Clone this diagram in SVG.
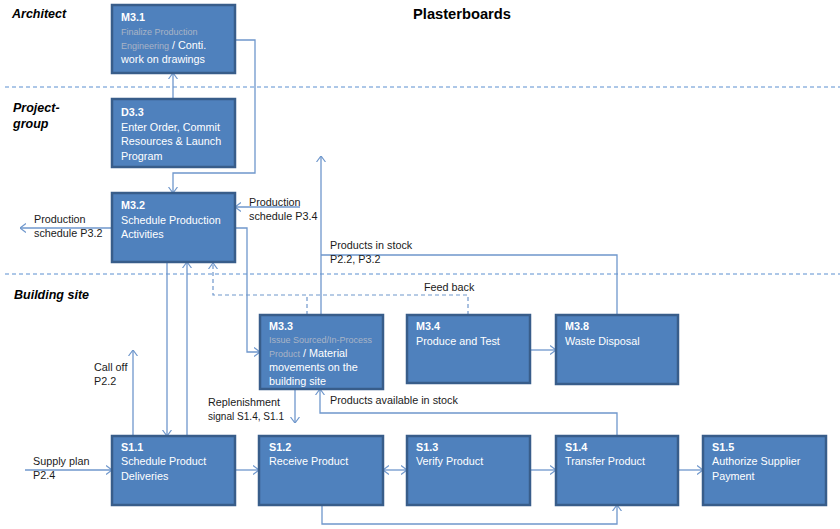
<svg xmlns="http://www.w3.org/2000/svg" width="840" height="529" viewBox="0 0 840 529">
<style>
.box{fill:#4F81BD;stroke:#385D8A;stroke-width:2.5}
.t{font-family:"Liberation Sans",Arial,sans-serif;font-size:10.8px;fill:#FFFFFF}
.b{font-weight:bold}
.g{fill:#A9B4C6;font-size:9px}
.lbl{font-family:"Liberation Sans",Arial,sans-serif;font-size:10.8px;fill:#1a1a1a}
.lane{font-family:"Liberation Sans",Arial,sans-serif;font-size:12.5px;font-weight:bold;font-style:italic;fill:#000}
.sep{stroke:#5B8FD0;stroke-width:1;stroke-dasharray:4,3;fill:none}
.c{fill:none;stroke:#6F97CC;stroke-width:1.3}
.d{fill:none;stroke:#6F97CC;stroke-width:1.2;stroke-dasharray:4,3}
</style>
<defs>
<marker id="a" viewBox="0 0 6 10" refX="6" refY="5" markerWidth="6" markerHeight="10" markerUnits="userSpaceOnUse" orient="auto">
<path d="M0,0.5 L6,5 L0,9.5" fill="none" stroke="#6F97CC" stroke-width="1.2"/>
</marker>
<marker id="s" viewBox="0 0 6 10" refX="0" refY="5" markerWidth="6" markerHeight="10" markerUnits="userSpaceOnUse" orient="auto">
<path d="M6,0.5 L0,5 L6,9.5" fill="none" stroke="#6F97CC" stroke-width="1.2"/>
</marker>
</defs>
<rect width="840" height="529" fill="#FFFFFF"/>

<g id="lanes">
<line class="sep" x1="5" y1="87" x2="840" y2="87"/>
<line class="sep" x1="5" y1="274" x2="840" y2="274"/>
<text class="lane" x="12" y="18">Architect</text>
<text class="lane" x="13" y="112">Project-</text>
<text class="lane" x="13" y="128">group</text>
<text class="lane" x="14" y="299">Building site</text>
<text x="413" y="19" font-family="'Liberation Sans',Arial,sans-serif" font-size="14.7" font-weight="bold" fill="#000">Plasterboards</text>
</g>

<g id="connectors">
<path class="c" d="M173,99 V73" marker-end="url(#a)"/>
<path class="c" d="M235,40 H255 V173 H173 V193" marker-end="url(#a)"/>
<path class="c" d="M112,228 H20" marker-end="url(#a)"/>
<path class="c" d="M300,207 H235" marker-end="url(#a)"/>
<path class="c" d="M235,228 H247 V352 H260" marker-end="url(#a)"/>
<path class="c" d="M167,262 V436" marker-end="url(#a)"/>
<path class="c" d="M187,436 V262" marker-end="url(#a)"/>
<path class="d" d="M468,315 V295 H213 V263" marker-end="url(#a)"/>
<path class="d" d="M307,315 V295"/>
<path class="c" d="M321,315 V156" marker-end="url(#a)"/>
<path class="c" d="M617,315 V255 H321"/>
<path class="c" d="M530,350 H556" marker-end="url(#a)"/>
<path class="c" d="M133,436 V350" marker-end="url(#a)"/>
<path class="c" d="M25,470 H112" marker-end="url(#a)"/>
<path class="c" d="M235,470 H259" marker-end="url(#a)"/>
<path class="c" d="M383,470 H407" marker-start="url(#s)" marker-end="url(#a)"/>
<path class="c" d="M530,470 H556" marker-end="url(#a)"/>
<path class="c" d="M678,470 H703" marker-end="url(#a)"/>
<path class="c" d="M322,505 V524 H617 V505" marker-end="url(#a)"/>
<path class="c" d="M617,436 V413 H320 V389" marker-end="url(#a)"/>
<path class="c" d="M295,389 V423" marker-end="url(#a)"/>
<text class="lbl" x="34" y="223">Production</text>
<text class="lbl" x="34" y="237">schedule P3.2</text>
<text class="lbl" x="249" y="206">Production</text>
<text class="lbl" x="249" y="220">schedule P3.4</text>
<text class="lbl" x="330" y="249">Products in stock</text>
<text class="lbl" x="330" y="263">P2.2, P3.2</text>
<text class="lbl" x="424" y="291">Feed back</text>
<text class="lbl" x="208" y="406">Replenishment</text>
<text class="lbl" x="208" y="420" textLength="76" lengthAdjust="spacingAndGlyphs">signal S1.4, S1.1</text>
<text class="lbl" x="330" y="404">Products available in stock</text>
<text class="lbl" x="94" y="371">Call off</text>
<text class="lbl" x="94" y="385">P2.2</text>
<text class="lbl" x="33" y="465">Supply plan</text>
<text class="lbl" x="33" y="479">P2.4</text>
</g>

<g id="M3.1">
<rect class="box" x="112" y="5" width="123" height="68"/>
<text class="t b" x="121" y="21">M3.1</text>
<text class="t g" x="121" y="35">Finalize Production</text>
<text class="t" x="121" y="49"><tspan class="g">Engineering</tspan> / Conti.</text>
<text class="t" x="121" y="63">work on drawings</text>
</g>

<g id="D3.3">
<rect class="box" x="112" y="99" width="123" height="68"/>
<text class="t b" x="121" y="116">D3.3</text>
<text class="t" x="121" y="131">Enter Order, Commit</text>
<text class="t" x="121" y="145">Resources &amp; Launch</text>
<text class="t" x="121" y="160">Program</text>
</g>

<g id="M3.2">
<rect class="box" x="112" y="193" width="123" height="69"/>
<text class="t b" x="121" y="209">M3.2</text>
<text class="t" x="121" y="224">Schedule Production</text>
<text class="t" x="121" y="238">Activities</text>
</g>

<g id="M3.3">
<rect class="box" x="260" y="315" width="123" height="74"/>
<text class="t b" x="269" y="330">M3.3</text>
<text class="t g" x="269" y="343">Issue Sourced/In-Process</text>
<text class="t" x="269" y="357"><tspan class="g">Product</tspan> / Material</text>
<text class="t" x="269" y="371">movements on the</text>
<text class="t" x="269" y="385">building site</text>
</g>

<g id="M3.4">
<rect class="box" x="407" y="315" width="123" height="68"/>
<text class="t b" x="416" y="330">M3.4</text>
<text class="t" x="416" y="345">Produce and Test</text>
</g>

<g id="M3.8">
<rect class="box" x="556" y="315" width="122" height="69"/>
<text class="t b" x="565" y="330">M3.8</text>
<text class="t" x="565" y="345">Waste Disposal</text>
</g>

<g id="S1.1">
<rect class="box" x="112" y="436" width="123" height="69"/>
<text class="t b" x="121" y="451">S1.1</text>
<text class="t" x="121" y="465">Schedule Product</text>
<text class="t" x="121" y="480">Deliveries</text>
</g>

<g id="S1.2">
<rect class="box" x="259" y="436" width="124" height="69"/>
<text class="t b" x="269" y="451">S1.2</text>
<text class="t" x="269" y="465">Receive Product</text>
</g>

<g id="S1.3">
<rect class="box" x="407" y="436" width="123" height="69"/>
<text class="t b" x="416" y="451">S1.3</text>
<text class="t" x="416" y="465">Verify Product</text>
</g>

<g id="S1.4">
<rect class="box" x="556" y="436" width="122" height="69"/>
<text class="t b" x="565" y="451">S1.4</text>
<text class="t" x="565" y="465">Transfer Product</text>
</g>

<g id="S1.5">
<rect class="box" x="703" y="436" width="123" height="69"/>
<text class="t b" x="712" y="451">S1.5</text>
<text class="t" x="712" y="465">Authorize Supplier</text>
<text class="t" x="712" y="480">Payment</text>
</g>
</svg>
